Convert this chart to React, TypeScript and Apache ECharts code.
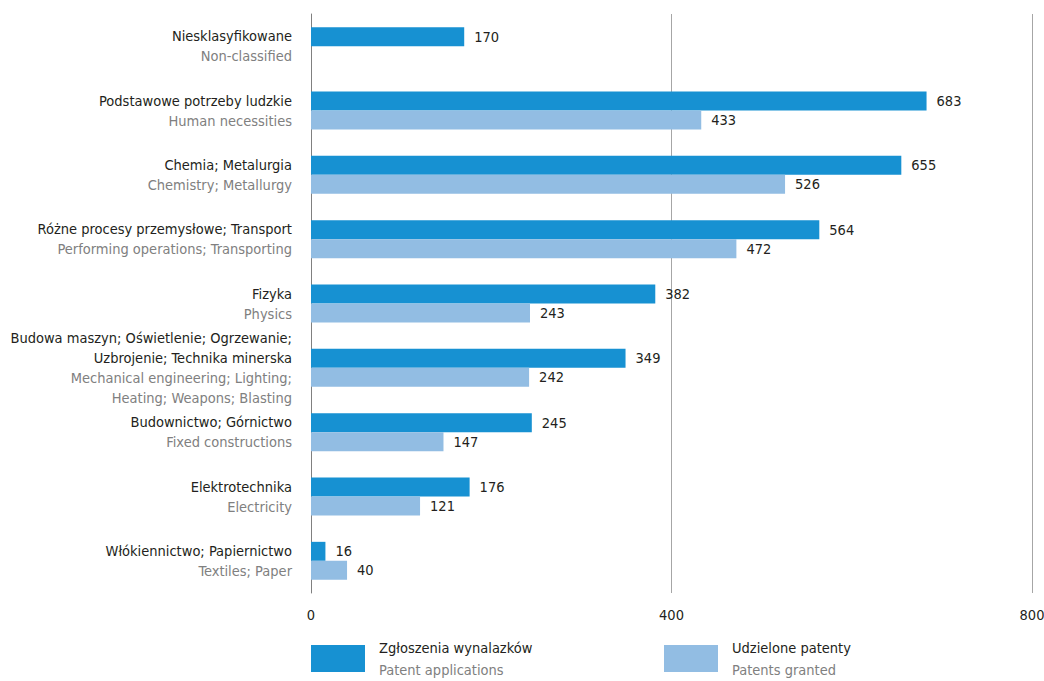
import React, { useEffect, useRef } from "react";
import * as echarts from "echarts";

const categoriesPL = [
  "Niesklasyfikowane",
  "Podstawowe potrzeby ludzkie",
  "Chemia; Metalurgia",
  "Różne procesy przemysłowe; Transport",
  "Fizyka",
  "Budowa maszyn; Oświetlenie; Ogrzewanie;\nUzbrojenie; Technika minerska",
  "Budownictwo; Górnictwo",
  "Elektrotechnika",
  "Włókiennictwo; Papiernictwo",
];
const categoriesEN = [
  "Non-classified",
  "Human necessities",
  "Chemistry; Metallurgy",
  "Performing operations; Transporting",
  "Physics",
  "Mechanical engineering; Lighting;\nHeating; Weapons; Blasting",
  "Fixed constructions",
  "Electricity",
  "Textiles; Paper",
];
const applications = [170, 683, 655, 564, 382, 349, 245, 176, 16];
const granted: (number | null)[] = [null, 433, 526, 472, 243, 242, 147, 121, 40];
const xTicks = [0, 400, 800];

const seriesNamesPL = ["Zgłoszenia wynalazków", "Udzielone patenty"];
const seriesNamesEN = ["Patent applications", "Patents granted"];

const FONT = "'Liberation Sans Narrow', 'DejaVu Sans Condensed', 'Roboto', sans-serif";
const FS = 14.5;
const DARK = "#1791d2";
const LIGHT = "#92bde3";
const TEXT = "#231f20";
const GRAY = "#808080";

export default function App() {
  const ref = useRef<HTMLDivElement>(null);
  useEffect(() => {
    if (!ref.current) return;
    const chart = echarts.init(ref.current, undefined, { renderer: "svg" });
    const cats = categoriesPL.map((_, i) => String(i));
    const labelFmt = (v: string) => {
      const i = Number(v);
      const pl = categoriesPL[i].split("\n").map((s) => `{a|${s}}`).join("\n");
      const en = categoriesEN[i].split("\n").map((s) => `{b|${s}}`).join("\n");
      return pl + "\n" + en;
    };
    const legendFor = (idx: number, left: number) => ({
      left,
      top: 640,
      padding: 0,
      itemWidth: 54,
      itemHeight: 27,
      itemGap: 0,
      icon: "rect",
      selectedMode: false,
      data: [seriesNamesPL[idx]],
      formatter: (name: string) => {
        const i = seriesNamesPL.indexOf(name);
        return `{a|${name}}\n{b|${seriesNamesEN[i]}}`;
      },
      textStyle: {
        padding: [0, 0, 0, 9],
        rich: {
          a: { color: TEXT, fontSize: FS, lineHeight: 22, fontFamily: FONT },
          b: { color: GRAY, fontSize: FS, lineHeight: 22, fontFamily: FONT },
        },
      },
    });
    chart.setOption({
      animation: false,
      textStyle: { fontFamily: FONT },
      grid: { left: 311, right: 12, top: 14, bottom: 88, containLabel: false, outerBoundsMode: "none" },
      xAxis: {
        type: "value",
        min: 0,
        max: 800,
        interval: 400,
        axisLine: { show: false },
        axisTick: { show: false },
        splitLine: { show: true, lineStyle: { color: "#a6a6a6", width: 1 } },
        axisLabel: {
          formatter: (v: number) => (xTicks.includes(v) ? String(v) : ""),
          color: TEXT,
          fontSize: FS,
          fontFamily: FONT,
          margin: 14,
        },
      },
      yAxis: {
        type: "category",
        data: cats,
        inverse: true,
        axisLine: { show: true, lineStyle: { color: GRAY, width: 1 } },
        axisTick: { show: false },
        axisLabel: {
          margin: 19,
          align: "right",
          formatter: labelFmt,
          rich: {
            a: { color: TEXT, fontSize: FS, lineHeight: 20, fontFamily: FONT, align: "right" },
            b: { color: GRAY, fontSize: FS, lineHeight: 20, fontFamily: FONT, align: "right" },
          },
        },
      },
      legend: [legendFor(0, 311), legendFor(1, 664)],
      series: [
        {
          name: seriesNamesPL[0],
          type: "bar",
          data: applications,
          barWidth: 19,
          barGap: "0%",
          itemStyle: { color: DARK },
          label: { show: true, position: "right", distance: 10, color: TEXT, fontSize: FS, fontFamily: FONT },
        },
        {
          name: seriesNamesPL[1],
          type: "bar",
          data: granted,
          barWidth: 19,
          barGap: "0%",
          itemStyle: { color: LIGHT },
          label: { show: true, position: "right", distance: 10, color: TEXT, fontSize: FS, fontFamily: FONT },
        },
      ],
    });
    return () => chart.dispose();
  }, []);
  return (
    <div
      ref={ref}
      style={{ position: "fixed", left: 0, top: 0, width: 1044, height: 681, background: "#fff" }}
    />
  );
}
